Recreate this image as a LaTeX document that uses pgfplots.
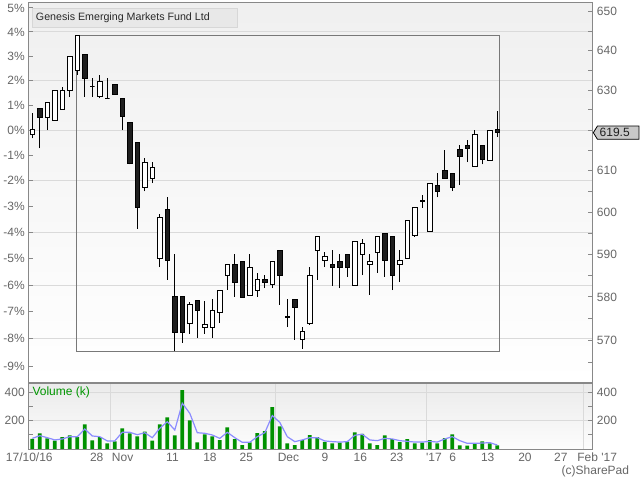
\documentclass[border=0pt]{standalone}
\usepackage{fontspec}
\setmainfont{Liberation Sans}
\usepackage{pgfplots}
\usepackage{pgfplotstable}
\pgfplotsset{compat=1.18}
\definecolor{framegray}{RGB}{136,136,136}
\definecolor{gridgray}{RGB}{218,218,218}
\definecolor{labgray}{RGB}{102,102,102}
\definecolor{candleblack}{RGB}{30,30,30}
\definecolor{vgreen}{RGB}{0,145,0}
\definecolor{vtext}{RGB}{0,150,0}
\definecolor{maline}{RGB}{140,140,255}
\definecolor{boxgray}{RGB}{120,120,120}
\definecolor{titlefill}{RGB}{232,232,232}
\definecolor{titledraw}{RGB}{215,215,215}
\definecolor{tagfill}{RGB}{200,200,200}

\pgfplotstableread{
i o h l c v m
0 619.0 624.3 618.0 620.05 71 75
1 625.4 625.4 615.5 623.0 111 94
2 623.0 626.9 620.0 626.9 75 80
3 622.3 630.0 622.3 630.0 59 64
4 625.0 630.9 625.0 630.0 83 71
5 629.9 638.6 628.3 638.6 97 87
6 634.9 644.0 633.8 644.0 83 87
7 639.1 639.1 628.3 632.8 174 141
8 631.0 633.0 628.3 631.0 61 92
9 628.3 633.8 627.9 632.1 83 87
10 627.9 633.0 627.9 627.9 40 57
11 631.5 631.5 628.8 628.8 54 57
12 627.9 627.9 620.0 623.4 146 118
13 622.0 622.0 611.6 611.9 111 118
14 617.0 617.0 596.0 601.0 90 101
15 606.0 613.1 605.0 612.1 123 115
16 608.0 612.1 607.0 610.7 59 80
17 589.1 599.5 587.0 598.6 174 146
18 600.6 603.6 584.0 588.5 224 193
19 580.1 590.0 567.6 571.9 97 134
20 580.1 580.1 569.5 571.9 415 323
21 574.0 578.8 571.5 578.2 203 252
22 579.2 579.2 570.6 576.9 47 115
23 573.1 579.0 571.5 573.6 104 111
24 573.1 579.6 570.6 576.9 90 99
25 576.5 581.6 574.0 581.6 62 75
26 585.1 587.5 581.7 587.5 153 118
27 587.5 590.0 580.0 583.4 69 80
28 588.2 588.2 579.9 579.9 27 47
29 580.4 590.0 580.4 587.0 46 47
30 581.6 585.6 580.0 584.0 112 87
31 584.0 585.1 582.1 583.5 126 115
32 583.0 588.2 582.1 588.2 295 236
33 591.0 591.0 578.2 585.1 160 188
34 575.6 579.5 573.1 575.2 40 87
35 579.5 579.5 570.2 577.5 27 52
36 570.2 573.1 568.1 572.0 62 64
37 574.0 587.0 573.6 585.1 98 80
38 591.0 594.1 584.0 594.1 83 80
39 588.6 590.5 587.0 589.6 51 57
40 587.5 591.0 582.6 586.9 40 52
41 588.2 590.0 582.1 586.9 45 49
42 590.0 590.0 584.7 586.9 52 52
43 582.6 593.1 582.6 593.1 118 97
44 590.0 593.6 585.1 592.6 106 104
45 587.5 590.0 580.5 588.2 40 64
46 590.5 594.1 585.6 594.1 27 59
47 595.0 595.0 584.7 588.6 96 75
48 594.1 594.1 581.6 585.1 69 71
49 587.5 591.0 583.5 588.6 48 59
50 589.1 598.1 589.1 598.1 69 54
51 594.5 601.0 594.1 601.0 40 49
52 602.5 604.1 601.0 602.7 45 49
53 595.5 607.0 595.5 607.0 62 54
54 606.5 609.4 603.6 605.1 40 49
55 610.2 615.1 608.0 608.0 76 71
56 609.4 609.4 605.1 606.0 103 87
57 615.1 616.2 606.5 613.5 26 59
58 616.2 617.6 612.1 615.5 24 40
59 611.1 620.0 611.1 619.0 40 40
60 616.2 616.2 611.6 612.9 54 42
61 612.6 620.0 612.6 620.0 40 45
62 620.05 624.8 618.25 619.5 26 28
}\data

\pgfplotsset{
  chartbase/.style={
    scale only axis, width=423.5pt, xmin=-0.573, xmax=74.72,
    anchor=south west,
    axis line style={framegray, line width=0.75pt},
    tick style={framegray, line width=0.75pt},
    major tick length=3.5pt, minor tick length=3.5pt,
    tick label style={font=\fontsize{9pt}{10pt}\selectfont, text=labgray},
    major grid style={gridgray, line width=0.75pt},
    minor grid style={gridgray, line width=0.75pt},
  },
}

\begin{document}
\begin{tikzpicture}
\path[use as bounding box] (0pt,0pt) rectangle (480pt,360pt);

% main price panel
\begin{axis}[chartbase, at={(21pt,72.75pt)}, height=285.2pt,
  ymode=log, ymin=560.46, ymax=652.39,
  axis background/.style={shade, top color=gray!12, bottom color=white},
  ytick={564.2,570.4,576.6,582.8,589,595.2,601.4,607.6,613.8,620,626.2,632.4,638.6,644.8,651},
  yticklabels={-9\%,-8\%,-7\%,-6\%,-5\%,-4\%,-3\%,-2\%,-1\%,0\%,1\%,2\%,3\%,4\%,5\%},
  ytick pos=left,
  yticklabel style={inner sep=0pt, xshift=-2.25pt},
  minor ytick={570.4,582.8,595.2,607.6,620,632.4,644.8}, yminorgrids,
  minor y tick style={draw=none},
  xtick=\empty, minor xtick={10.49,32.49,52.6,73.47}, xminorgrids,
  minor x tick style={draw=none},
]
\addplot[boxgray, line width=0.75pt] coordinates {(5.83,644.0) (62.27,644.0) (62.27,567.6) (5.83,567.6)} -- cycle;
\pgfplotstablegetrowsof{\data}
\pgfmathtruncatemacro{\N}{\pgfplotsretval-1}
\pgfplotsforeachungrouped \k in {0,...,\N}{%
  \pgfplotstablegetelem{\k}{o}\of\data \let\O\pgfplotsretval
  \pgfplotstablegetelem{\k}{h}\of\data \let\H\pgfplotsretval
  \pgfplotstablegetelem{\k}{l}\of\data \let\L\pgfplotsretval
  \pgfplotstablegetelem{\k}{c}\of\data \let\C\pgfplotsretval
  \pgfmathsetmacro\xa{\k-0.3}%
  \pgfmathsetmacro\xb{\k+0.3}%
  \pgfmathtruncatemacro\dn{\C<\O ? 1 : 0}%
  \ifnum\dn=1 \def\bodycolor{candleblack}\else\def\bodycolor{white}\fi
  \edef\temp{%
    \noexpand\addplot[black, line width=0.75pt] coordinates {(\k,\L) (\k,\H)};
    \noexpand\addplot[draw=black, fill=\bodycolor, line width=0.75pt] coordinates {(\xa,\O) (\xb,\O) (\xb,\C) (\xa,\C)} -- cycle;
  }\temp
}
\end{axis}

% right price axis
\begin{axis}[chartbase, at={(21pt,72.75pt)}, height=285.2pt,
  ymode=log, ymin=560.46, ymax=652.39,
  xtick=\empty,
  ytick={570,580,590,600,610,630,640,650},
  yticklabels={570,580,590,600,610,630,640,650},
  minor ytick={565,575,585,595,605,615,620,625,635,645},
  ytick pos=right,
  yticklabel style={inner sep=0pt, xshift=3pt},
]
\end{axis}

% volume panel
\begin{axis}[chartbase, at={(21pt,23.25pt)}, height=49.5pt,
  ymin=0, ymax=466,
  axis background/.style={shade, top color=gray!16, bottom color=gray!2},
  ytick={200,400}, yticklabels={200,400}, minor ytick={100,300}, ytick pos=left,
  yticklabel style={inner sep=0pt, xshift=-2.25pt},
  ymajorgrids,
  xtick={-0.4,8.59,12.05,18.69,23.69,28.53,34.16,39.03,43.73,48.59,53.56,56.05,60.73,65.69,70.47,72.67},
  xticklabels={17/10/16,28,Nov,11,18,25,Dec,9,16,23,\textquotesingle17,6,13,20,27,\makebox[0pt][l]{Feb \textquotesingle17}},
  xtick style={draw=none}, xtick pos=left,
  xticklabel style={inner sep=0pt, yshift=-2.8pt},
  minor xtick={10.49,32.49,52.6,73.47}, xminorgrids,
]
\addplot[ybar, bar width=2.8pt, fill=vgreen, draw=none] table[x=i,y=v]{\data};
\addplot[maline, line width=0.9pt] table[x=i,y=m]{\data};
\end{axis}

% right volume axis + weekly ticks
\begin{axis}[chartbase, at={(21pt,23.25pt)}, height=49.5pt,
  ymin=0, ymax=466,
  ytick={200,400}, yticklabels={200,400}, minor ytick={100,300}, ytick pos=right,
  yticklabel style={inner sep=0pt, xshift=3pt},
  xtick=\empty, xtick pos=left,
  minor xtick={4.5,9.5,14.5,19.5,24.5,29.5,34.5,39.5,44.5,49.5,56.5,61.5,66.6,71.7},
  minor x tick style={framegray},
]
\end{axis}

% title box
\draw[titledraw, fill=titlefill] (24.2pt,339.5pt) rectangle (178.3pt,353.8pt);
\node[anchor=west, inner sep=0pt, text={rgb,255:red,40;green,40;blue,40}, font=\fontsize{8pt}{9pt}\selectfont] at (26.8pt,346.6pt) {Genesis Emerging Markets Fund Ltd};

% volume label
\node[anchor=west, inner sep=0pt, text=vtext, font=\fontsize{9pt}{10pt}\selectfont] at (24.2pt,66.0pt) {Volume (k)};

% copyright
\node[anchor=east, inner sep=0pt, text=labgray, font=\fontsize{9pt}{10pt}\selectfont] at (472pt,6.2pt) {(c)SharePad};

% last price tag
\draw[black, line width=0.6pt, fill=tagfill] (445.0pt,260.5pt) -- (448.1pt,265.5pt) -- (479.2pt,265.5pt) -- (479.2pt,255.5pt) -- (448.1pt,255.5pt) -- cycle;
\node[inner sep=0pt, text={rgb,255:red,30;green,30;blue,30}, font=\fontsize{9pt}{10pt}\selectfont] at (461pt,260.5pt) {619.5};
\end{tikzpicture}
\end{document}
